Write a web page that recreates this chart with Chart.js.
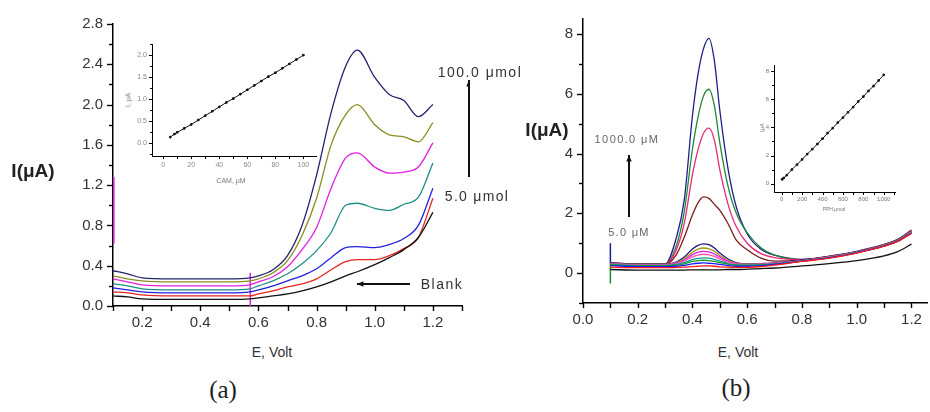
<!DOCTYPE html>
<html><head><meta charset="utf-8">
<script src="https://cdn.jsdelivr.net/npm/chart.js@4/dist/chart.umd.min.js"></script>
<style>
body{margin:0;width:930px;height:412px;background:#fff;position:relative;overflow:hidden;font-family:"Liberation Sans",Arial,sans-serif;}
canvas{position:absolute;}
.t{position:absolute;white-space:nowrap;color:#333;transform:translate(-50%,-50%);}
</style></head><body>
<canvas id="ca" width="470" height="340" style="left:0;top:0"></canvas>
<canvas id="cb" width="460" height="340" style="left:470px;top:0"></canvas>
<canvas id="ia" width="210" height="160" style="left:120px;top:35px"></canvas>
<canvas id="ib" width="160" height="175" style="left:750px;top:50px"></canvas>

<div class="t" style="left:33px;top:171px;font-weight:bold;font-size:19px;color:#222">I(μA)</div>
<div class="t" style="left:272px;top:352px;font-size:14px;color:#333">E, Volt</div>
<div class="t" style="left:223px;top:390px;font-family:'Liberation Serif',serif;font-size:25px;color:#222">(a)</div>
<div class="t" style="left:547px;top:130px;font-weight:bold;font-size:19px;color:#222">I(μA)</div>
<div class="t" style="left:738px;top:352px;font-size:14px;color:#333">E, Volt</div>
<div class="t" style="left:736px;top:388px;font-family:'Liberation Serif',serif;font-size:25px;color:#222">(b)</div>
<div class="t" style="left:480px;top:72px;font-size:14px;letter-spacing:1.5px;color:#333">100.0 μmol</div>
<div class="t" style="left:477px;top:196px;font-size:14px;letter-spacing:1.3px;color:#333">5.0 μmol</div>
<div class="t" style="left:442px;top:284px;font-size:14px;letter-spacing:1.5px;color:#333">Blank</div>
<div class="t" style="left:627px;top:139px;font-size:11px;letter-spacing:1.4px;color:#666">1000.0 μM</div>
<div class="t" style="left:629px;top:232px;font-size:11px;letter-spacing:1.3px;color:#666">5.0 μM</div>
<div class="t" style="left:231px;top:180px;font-size:7px;color:#777">CAM, μM</div>
<div class="t" style="left:128px;top:100px;font-size:7px;color:#777;transform:translate(-50%,-50%) rotate(-90deg)">I, μA</div>
<div class="t" style="left:834px;top:209px;font-size:5px;color:#777">PPH,μmol</div>
<div class="t" style="left:762px;top:128px;font-size:5px;color:#777;transform:translate(-50%,-50%) rotate(-90deg)">I,μA</div>

<script>
// ---------- Panel (a): DPV of CAM ----------
const xA = [0.1,0.15,0.2,0.3,0.4,0.5,0.57,0.6,0.65,0.7,0.75,0.8,0.85,0.9,0.94,1.0,1.05,1.1,1.15,1.2];
const blankA = [0.10,0.09,0.07,0.065,0.065,0.065,0.07,0.08,0.10,0.12,0.15,0.19,0.24,0.30,0.34,0.41,0.48,0.56,0.68,0.93];
const redA   = [0.14,0.13,0.11,0.10,0.10,0.10,0.10,0.12,0.15,0.19,0.22,0.27,0.36,0.44,0.46,0.46,0.50,0.57,0.68,1.07];
const blueA  = [0.18,0.16,0.14,0.13,0.13,0.13,0.14,0.16,0.20,0.25,0.30,0.37,0.48,0.58,0.59,0.58,0.61,0.67,0.80,1.17];
const tealA  = [0.22,0.20,0.17,0.16,0.16,0.16,0.17,0.20,0.25,0.32,0.42,0.55,0.73,1.00,1.02,0.97,0.95,1.01,1.08,1.42];
const magA   = [0.27,0.24,0.21,0.20,0.20,0.20,0.21,0.24,0.29,0.39,0.56,0.78,1.17,1.47,1.52,1.38,1.32,1.33,1.38,1.62];
const oliveA = [0.30,0.27,0.25,0.24,0.24,0.24,0.25,0.27,0.33,0.45,0.70,1.07,1.60,1.90,2.00,1.80,1.70,1.68,1.63,1.82];
const navyA  = [0.35,0.32,0.28,0.27,0.27,0.27,0.28,0.30,0.36,0.50,0.80,1.30,1.92,2.38,2.54,2.27,2.10,2.04,1.88,2.00];
const spikeA1X = [0.103,0.103], spikeA1Y = [0.62,1.28];
const spikeA2X = [0.572,0.572], spikeA2Y = [0.0,0.33];

// inset (a): calibration CAM
const insAX = [5,8,10,15,20,25,30,35,40,45,50,55,60,65,70,75,80,85,90,95,100];
const insAY = [0.13,0.20,0.24,0.33,0.42,0.52,0.62,0.72,0.82,0.92,1.01,1.11,1.21,1.31,1.41,1.51,1.60,1.70,1.80,1.90,2.00];

// ---------- Panel (b) ----------
const xB = [0.1,0.2,0.3,0.34,0.37,0.40,0.42,0.44,0.46,0.48,0.50,0.53,0.56,0.60,0.65,0.70,0.80,0.90,1.00,1.10,1.15,1.20];
const blackB  = [0.12,0.10,0.10,0.10,0.10,0.11,0.11,0.11,0.11,0.11,0.11,0.12,0.12,0.13,0.15,0.17,0.24,0.32,0.42,0.58,0.72,0.97];
const redB    = [0.20,0.18,0.18,0.19,0.20,0.22,0.23,0.24,0.24,0.23,0.21,0.20,0.19,0.19,0.22,0.27,0.39,0.50,0.67,0.90,1.06,1.33];
const blueB   = [0.25,0.22,0.22,0.23,0.26,0.31,0.33,0.34,0.33,0.32,0.29,0.25,0.23,0.23,0.25,0.29,0.40,0.51,0.68,0.90,1.07,1.34];
const greenB2 = [0.28,0.25,0.25,0.27,0.31,0.39,0.42,0.43,0.42,0.39,0.35,0.30,0.26,0.26,0.27,0.30,0.40,0.52,0.68,0.91,1.08,1.35];
const tealB   = [0.29,0.26,0.26,0.29,0.35,0.45,0.49,0.51,0.50,0.46,0.40,0.32,0.28,0.27,0.28,0.31,0.41,0.52,0.69,0.91,1.08,1.36];
const hotB    = [0.30,0.27,0.27,0.31,0.40,0.54,0.60,0.63,0.61,0.56,0.47,0.36,0.30,0.28,0.29,0.32,0.41,0.53,0.69,0.92,1.09,1.37];
const magB    = [0.31,0.28,0.28,0.33,0.44,0.62,0.70,0.73,0.71,0.64,0.53,0.39,0.32,0.29,0.30,0.33,0.42,0.53,0.70,0.92,1.09,1.38];
const oliveB  = [0.32,0.29,0.29,0.35,0.48,0.70,0.80,0.84,0.81,0.73,0.59,0.43,0.33,0.30,0.31,0.33,0.42,0.54,0.70,0.93,1.10,1.39];
const navyB2  = [0.33,0.30,0.30,0.37,0.54,0.81,0.93,0.98,0.95,0.84,0.67,0.47,0.35,0.31,0.32,0.34,0.43,0.54,0.71,0.93,1.10,1.40];
const maroonB = [0.32,0.29,0.29,0.60,1.20,1.95,2.35,2.55,2.50,2.30,2.10,1.65,1.10,0.78,0.50,0.40,0.44,0.55,0.71,0.94,1.11,1.40];
const pinkB1  = [0.33,0.30,0.30,0.76,1.67,3.30,4.12,4.67,4.85,4.45,3.45,2.30,1.55,1.00,0.65,0.52,0.45,0.56,0.72,0.95,1.12,1.42];
const greenB1 = [0.34,0.30,0.30,0.89,2.06,4.16,5.21,5.92,6.15,5.60,4.35,2.90,2.00,1.35,0.85,0.60,0.45,0.56,0.72,0.95,1.12,1.42];
const navyB1  = [0.35,0.30,0.30,1.15,2.45,5.28,6.64,7.50,7.85,7.10,5.43,3.48,2.21,1.31,0.80,0.60,0.46,0.57,0.73,0.96,1.13,1.44];
const spikeB1X = [0.1,0.1], spikeB1Y = [0.3,1.0];
const spikeB2X = [0.1,0.1], spikeB2Y = [-0.35,0.3];

// inset (b): calibration
const insBX = [5,20,50,100,150,200,250,300,350,400,450,500,550,600,650,700,750,800,850,900,950,1000];
const insBY = [0.30,0.40,0.60,1.00,1.35,1.72,2.10,2.45,2.82,3.20,3.60,3.95,4.35,4.70,5.08,5.45,5.85,6.20,6.60,6.95,7.35,7.75];

// ---------- helpers ----------
const pts = (xs, ys) => xs.map((x, i) => ({x, y: ys[i]}));
const line = (xs, ys, color, w) => ({data: pts(xs, ys), borderColor: color, borderWidth: w || 1.3,
  pointRadius: 0, cubicInterpolationMode: 'monotone', fill: false});

function axis(o) {
  return {
    type: 'linear', min: o.min, max: o.max,
    afterFit: s => { if (o.w !== undefined) s.width = o.w; if (o.h !== undefined) s.height = o.h; },
    border: {display: true, color: '#000', width: o.bw || 1.5},
    grid: {display: false, drawOnChartArea: false, drawTicks: false},
    ticks: {stepSize: o.step, includeBounds: false, autoSkip: false, maxRotation: 0, padding: o.pad || 3,
      color: o.tc || '#333', font: {family: '"Liberation Sans", Arial, sans-serif', size: o.fs || 15},
      callback: o.cb},
    tickMarks: {major: o.maj || 6, minor: o.min2 || 4, width: o.tw || 1.4}
  };
}

// draws outward major/minor tick marks at the scale's own tick values
const tickMarks = {
  id: 'tickMarks',
  afterDraw(chart) {
    const ctx = chart.ctx, ca = chart.chartArea;
    Object.values(chart.scales).forEach(s => {
      const tm = s.options.tickMarks; if (!tm) return;
      ctx.save(); ctx.strokeStyle = '#000'; ctx.lineWidth = tm.width;
      s.ticks.forEach(t => {
        const p = Math.round(s.getPixelForValue(t.value)) + 0.5;
        const len = (t.label !== '' && t.label !== undefined) ? tm.major : tm.minor;
        ctx.beginPath();
        if (s.isHorizontal()) { ctx.moveTo(p, ca.bottom); ctx.lineTo(p, ca.bottom + len); }
        else { ctx.moveTo(ca.left - len, p); ctx.lineTo(ca.left, p); }
        ctx.stroke();
      });
      ctx.restore();
    });
  }
};

const arrows = {
  id: 'arrows',
  afterDraw(chart, args, opts) {
    const ctx = chart.ctx;
    (opts.list || []).forEach(a => {
      ctx.save();
      ctx.strokeStyle = '#111'; ctx.fillStyle = '#111'; ctx.lineWidth = a.w || 2;
      ctx.beginPath(); ctx.moveTo(a.x1, a.y1); ctx.lineTo(a.x2, a.y2); ctx.stroke();
      const ang = Math.atan2(a.y2 - a.y1, a.x2 - a.x1), L = a.h || 7;
      ctx.beginPath();
      ctx.moveTo(a.x2, a.y2);
      ctx.lineTo(a.x2 - L * Math.cos(ang - 0.4), a.y2 - L * Math.sin(ang - 0.4));
      ctx.lineTo(a.x2 - L * Math.cos(ang + 0.4), a.y2 - L * Math.sin(ang + 0.4));
      ctx.closePath(); ctx.fill();
      ctx.restore();
    });
  }
};

const base = (padding, arrowList) => ({
  responsive: false, animation: false, devicePixelRatio: 1,
  layout: {padding},
  plugins: {legend: {display: false}, tooltip: {enabled: false}, arrows: {list: arrowList || []}},
  elements: {line: {borderJoinStyle: 'round'}}
});

const even10 = v => (Math.round(v * 10) % 2 === 0) ? v.toFixed(1) : '';

// ---------- Chart (a) ----------
new Chart(document.getElementById('ca'), {
  type: 'line',
  data: {datasets: [
    line(xA, blankA, '#111111'),
    line(xA, redA, '#e8251e'),
    line(xA, blueA, '#2222dd'),
    line(xA, tealA, '#1f8f86'),
    line(xA, magA, '#e01fe0'),
    line(xA, oliveA, '#8c8c22'),
    line(xA, navyA, '#23236e'),
    line(spikeA1X, spikeA1Y, '#e01fe0', 1.5),
    line(spikeA2X, spikeA2Y, '#e01fe0', 1.5)
  ]},
  plugins: [arrows, tickMarks],
  options: Object.assign(base({left: 0, top: 24, right: 5, bottom: 0}, [
      {x1: 469, y1: 177, x2: 469, y2: 80},
      {x1: 410, y1: 284, x2: 357, y2: 284}
    ]), {
    scales: {
      x: axis({min: 0.1, max: 1.3, step: 0.1, h: 34, pad: 8, maj: 5, min2: 5, cb: even10}),
      y: axis({min: 0, max: 2.8, step: 0.2, w: 113, pad: 10,
        cb: v => (Math.round(v * 10) % 4 === 0) ? v.toFixed(1) : ''})
    }
  })
});

// ---------- Chart (b) ----------
new Chart(document.getElementById('cb'), {
  type: 'line',
  data: {datasets: [
    line(xB, blackB, '#111111'),
    line(xB, redB, '#ff1a1a'),
    line(xB, blueB, '#1a1aff'),
    line(xB, greenB2, '#169a2a'),
    line(xB, tealB, '#139a9a'),
    line(xB, hotB, '#ff55b0'),
    line(xB, magB, '#e41ee4'),
    line(xB, oliveB, '#9a9a10'),
    line(xB, navyB2, '#1a1a80'),
    line(xB, maroonB, '#7e1a1a'),
    line(xB, pinkB1, '#e8287a'),
    line(xB, greenB1, '#1f8a35'),
    line(xB, navyB1, '#1e1e8c'),
    line(spikeB1X, spikeB1Y, '#1e1e8c', 1.5),
    line(spikeB2X, spikeB2Y, '#1f8a35', 1.5)
  ]},
  plugins: [arrows, tickMarks],
  options: Object.assign(base({left: 0, top: 17, right: 2, bottom: 0}, [
      {x1: 159, y1: 217, x2: 159, y2: 155}
    ]), {
    scales: {
      x: axis({min: 0, max: 1.26, step: 0.1, h: 37, pad: 8, maj: 5, min2: 5, cb: even10}),
      y: axis({min: -1, max: 8.5, step: 1, w: 113, pad: 10,
        cb: v => (Math.round(v) >= 0 && Math.round(v) % 2 === 0) ? String(Math.round(v)) : ''})
    }
  })
});

// ---------- Inset (a) ----------
new Chart(document.getElementById('ia'), {
  type: 'line',
  data: {datasets: [{data: pts(insAX, insAY), borderColor: '#111', borderWidth: 1, pointRadius: 1.1,
    pointStyle: 'rect', pointBackgroundColor: '#111', pointBorderColor: '#111', tension: 0}]},
  plugins: [tickMarks],
  options: Object.assign(base({left: 0, top: 8, right: 14, bottom: 0}), {
    scales: {
      x: axis({min: -8, max: 109, step: 10, h: 39, bw: 1, maj: 3, min2: 3, tw: 1, pad: 5, fs: 7, tc: '#888',
        cb: v => (Math.round(v) % 20 === 0) ? String(Math.round(v)) : ''}),
      y: axis({min: -0.3, max: 2.25, step: 0.25, w: 32, bw: 1, maj: 3, min2: 2, tw: 1, pad: 5, fs: 7, tc: '#888',
        cb: v => (Math.round(v * 100) % 50 === 0) ? v.toFixed(1) : ''})
    }
  })
});

// ---------- Inset (b) ----------
new Chart(document.getElementById('ib'), {
  type: 'line',
  data: {datasets: [{data: pts(insBX, insBY), borderColor: '#111', borderWidth: 1, pointRadius: 1.1,
    pointStyle: 'rect', pointBackgroundColor: '#111', pointBorderColor: '#111', tension: 0}]},
  plugins: [tickMarks],
  options: Object.assign(base({left: 0, top: 15, right: 15, bottom: 0}), {
    scales: {
      x: axis({min: -75, max: 1110, step: 100, h: 33, bw: 1, maj: 3, min2: 3, tw: 1, pad: 4, fs: 6, tc: '#777',
        cb: v => (Math.round(v) % 200 === 0) ? String(Math.round(v)) : ''}),
      y: axis({min: -0.6, max: 8.45, step: 1, w: 24, bw: 1, maj: 3, min2: 2, tw: 1, pad: 5, fs: 6, tc: '#777',
        cb: v => (Math.round(v) % 2 === 0) ? String(Math.round(v)) : ''})
    }
  })
});
</script>
</body></html>
